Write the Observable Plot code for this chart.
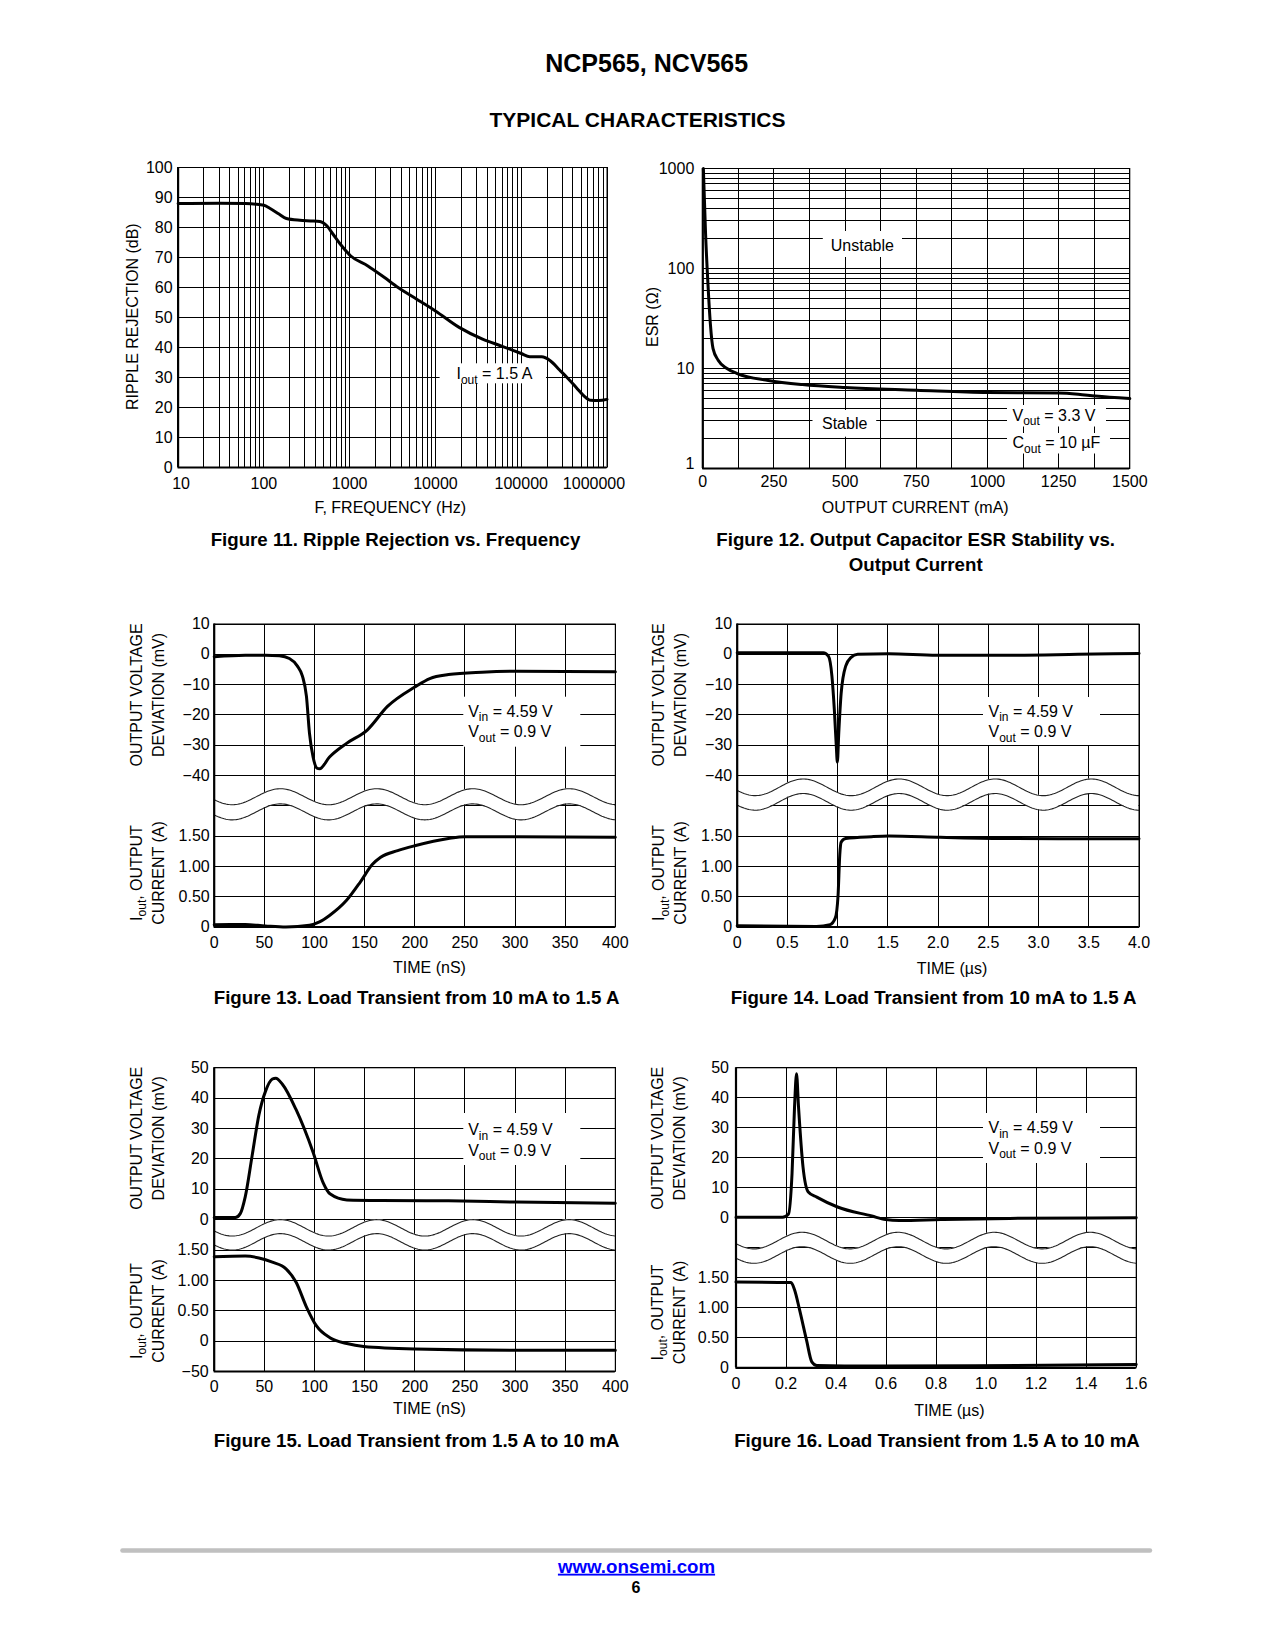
<!DOCTYPE html>
<html><head><meta charset="utf-8">
<script src="https://cdn.jsdelivr.net/npm/d3@7"></script>
<script src="https://cdn.jsdelivr.net/npm/@observablehq/plot@0.6"></script>
<style>
html,body{margin:0;padding:0;background:#fff;}
#page{position:relative;width:1275px;height:1650px;background:#fff;overflow:hidden;}
.chart{position:absolute;}
#overlay{position:absolute;left:0;top:0;pointer-events:none;}
</style></head><body><div id="page"></div>
<script>
// ---------------- DATA ----------------
// Figure 11: ripple rejection vs frequency
const fig11Freq = [10, 30, 61, 100, 117, 150, 183, 263, 350, 450, 545, 650, 780, 1030, 1630, 2500, 3670, 6000, 10000, 18900, 35400, 60000, 100000, 126000, 173000, 218000, 280000, 342000, 440000, 538000, 645000, 800000, 1000000];
const fig11Rej  = [88.0, 88.1, 88.0, 87.4, 86.4, 84.5, 83.0, 82.4, 82.2, 82.0, 80.5, 77.5, 74.4, 70.5, 67.2, 63.5, 60.0, 56.2, 52.2, 46.7, 42.8, 40.4, 38.0, 36.9, 36.9, 35.6, 32.5, 30.0, 26.6, 23.9, 22.4, 22.3, 22.7];
const fig11XTicks = [10, 100, 1000, 10000, 100000, 1000000];
const fig11YTicks = [0, 10, 20, 30, 40, 50, 60, 70, 80, 90, 100];

// Figure 12: ESR stability vs output current
const fig12Current = [2, 9.7, 18, 26.6, 36, 54, 85, 121, 230, 350, 500, 750, 1000, 1250, 1319, 1379, 1500];
const fig12Esr     = [1000, 224, 71, 28, 15.8, 12.1, 10, 8.9, 7.6, 6.9, 6.45, 6.07, 5.75, 5.7, 5.54, 5.3, 5.0];
const fig12XTicks = [0, 250, 500, 750, 1000, 1250, 1500];
const fig12YTicks = [1, 10, 100, 1000];

// Figure 13: load transient 10 mA -> 1.5 A (ns)
const fig13VoltT = [0, 31, 51, 65, 75, 83, 88, 92, 95, 98.6, 102.6, 105, 115, 132, 152.6, 172.8, 200, 215, 233.6, 267, 301, 400];
const fig13Volt  = [-0.8, -0.3, -0.3, -0.5, -1.4, -3.9, -7.2, -13.9, -26, -33.9, -37.6, -37.8, -33.9, -29.4, -25, -17.2, -10.8, -8, -6.7, -5.9, -5.6, -5.8];
const fig13CurT  = [0, 31, 51, 71.5, 95, 105, 115, 132, 146, 157.6, 166, 183, 200, 233.6, 250, 301, 400];
const fig13Cur   = [0.039, 0.04, 0.017, 0, 0.028, 0.083, 0.19, 0.44, 0.75, 1.03, 1.15, 1.26, 1.34, 1.46, 1.49, 1.49, 1.48];
const fig13XTicks = [0, 50, 100, 150, 200, 250, 300, 350, 400];

// Figure 14: load transient 10 mA -> 1.5 A (us)
const fig14VoltT = [0, 0.857, 0.908, 0.943, 0.967, 0.987, 0.997, 1.011, 1.035, 1.08, 1.131, 1.2, 1.508, 1.988, 2.708, 3.393, 4.0];
const fig14Volt  = [0.5, 0.5, -0.6, -7.2, -18.3, -30.6, -35.6, -26, -12.8, -3.9, -1.1, 0, 0.2, -0.3, -0.3, 0, 0.3];
const fig14CurT  = [0, 0.788, 0.925, 0.977, 1.004, 1.021, 1.035, 1.08, 1.337, 1.508, 2.022, 2.708, 4.0];
const fig14Cur   = [0.02, 0.01, 0.04, 0.15, 0.52, 1.19, 1.4, 1.46, 1.49, 1.5, 1.48, 1.46, 1.455];
const fig14XTicks = [0, 0.5, 1.0, 1.5, 2.0, 2.5, 3.0, 3.5, 4.0];

// Figure 15: load transient 1.5 A -> 10 mA (ns)
const fig15VoltT = [0, 21, 26, 31, 37.8, 44.6, 51.3, 58, 61.4, 68, 81.7, 98.6, 108.7, 115.4, 132.3, 166, 233.6, 301, 400];
const fig15Volt  = [0.7, 0.7, 2, 7.6, 21, 34.5, 42.4, 46.3, 46.6, 44.6, 36.2, 22.2, 12.1, 8.5, 6.5, 6.3, 6.2, 5.8, 5.4];
const fig15CurT  = [0, 31, 44.6, 58, 71.6, 81.7, 91.8, 102, 115.4, 132.3, 149, 200, 301, 400];
const fig15Cur   = [1.39, 1.40, 1.37, 1.30, 1.19, 0.97, 0.57, 0.25, 0.056, -0.004, -0.0089, -0.0129, -0.0149, -0.0149];
const fig15XTicks = [0, 50, 100, 150, 200, 250, 300, 350, 400];

// Figure 16: load transient 1.5 A -> 10 mA (us)
const fig16VoltT = [0, 0.186, 0.21, 0.224, 0.234, 0.242, 0.25, 0.268, 0.289, 0.323, 0.406, 0.543, 0.598, 0.653, 0.819, 1.094, 1.6];
const fig16Volt  = [0.2, 0.2, 1.3, 14.7, 36.9, 48, 36.9, 16.9, 8.6, 6.9, 3.6, 0.6, -0.6, -0.9, -0.6, -0.2, 0];
const fig16CurT  = [0, 0.22, 0.234, 0.254, 0.282, 0.303, 0.323, 0.543, 0.956, 1.6];
const fig16Cur   = [1.43, 1.42, 1.30, 0.97, 0.46, 0.1, 0.04, 0.03, 0.034, 0.056];
const fig16XTicks = [0, 0.2, 0.4, 0.6, 0.8, 1.0, 1.2, 1.4, 1.6];

// tick labels for transient y axes
const voltTicksNeg = [10, 0, -10, -20, -30, -40];
const voltTicksPos = [50, 40, 30, 20, 10, 0];
const currentTicks = [1.5, 1.0, 0.5, 0];
const fig15NegCurrentTick = [-0.05]; // -50 mA

// ---------------- HELPERS ----------------
const FONT = "'Liberation Sans', Arial, Helvetica, sans-serif";
const STYLE = {fontFamily: FONT, fontSize: "16px", color: "black", background: "transparent", overflow: "visible"};
const page = document.getElementById("page");
const GRID = {stroke: "black", strokeOpacity: 1, strokeWidth: 1};
const fmtInt = d3.format("d");
const fmtMinus = v => v < 0 ? "\u2212" + (-v) : String(v);
const fmtA = v => v === 0 ? "0" : v.toFixed(2);
const fmtDec = d => d === 0 ? "0" : d.toFixed(1);

function place(frame, build) {
  const {x0, x1, y0, y1} = frame;
  const left = Math.floor(x0) - 100, top = Math.floor(y0) - 20;
  const width = Math.ceil(x1) + 40 - left, height = Math.ceil(y1) + 40 - top;
  const L = {width, height, marginLeft: x0 - left, marginRight: width - (x1 - left), marginTop: y0 - top, marginBottom: height - (y1 - top)};
  const svg = build(L);
  svg.querySelectorAll('g[aria-label="x-grid"], g[aria-label="y-grid"]').forEach(g => g.setAttribute("shape-rendering", "crispEdges"));
  const div = document.createElement("div");
  div.className = "chart";
  div.style.left = left + "px"; div.style.top = top + "px"; div.style.width = width + "px"; div.style.height = height + "px";
  div.appendChild(svg);
  page.appendChild(div);
}

function frameMarks(xmin, ymin) {
  return [
    Plot.frame({stroke: "black", strokeWidth: 1}),
    Plot.ruleX([xmin], {stroke: "black", strokeWidth: 2.2}),
    Plot.ruleY([ymin], {stroke: "black", strokeWidth: 2.2})
  ];
}

function makeWave(x0, x1, crest, period, hiC, loC, amp) {
  return d3.range(0, 241).map(k => {
    const x = x0 + (x1 - x0) * k / 240;
    const c = Math.cos(2 * Math.PI * (x - crest) / period);
    return {x, hi: hiC + amp * c, lo: loC + amp * c};
  });
}

// ---------------- FIGURE 11 ----------------
const fig11Grid = [];
for (let dec = 10; dec < 1e6; dec *= 10) for (let m = 1; m < 10; m++) fig11Grid.push(dec * m);
fig11Grid.push(1e6);
place({x0: 177.6, x1: 606.5, y0: 167, y1: 467}, L => Plot.plot({
  ...L,
  x: {type: "log", domain: [10, 1e6], label: null},
  y: {domain: [0, 100], label: null},
  style: STYLE,
  marks: [
    Plot.gridX(fig11Grid, GRID),
    Plot.gridY(fig11YTicks, GRID),
    ...frameMarks(10, 0),
    Plot.line(fig11Freq.map((f, i) => ({f, r: fig11Rej[i]})), {x: "f", y: "r", stroke: "black", strokeWidth: 3, curve: "monotone-x", strokeLinejoin: "round"}),
    Plot.axisX(fig11XTicks.slice(1, 5), {tickSize: 0, tickPadding: 10, tickFormat: fmtInt, fontSize: 16, label: null}),
    Plot.axisX([10], {tickSize: 0, tickPadding: 10, tickFormat: fmtInt, fontSize: 16, label: null, dx: 3}),
    Plot.axisX([1000000], {tickSize: 0, tickPadding: 10, tickFormat: fmtInt, fontSize: 16, label: null, dx: -13}),
    Plot.axisY(fig11YTicks, {tickSize: 0, tickPadding: 5.5, fontSize: 16, label: null})
  ]
}));

// ---------------- FIGURE 12 ----------------
const fig12GridY = [];
for (let dec = 1; dec < 1000; dec *= 10) for (let m = 1; m < 10; m++) fig12GridY.push(dec * m);
fig12GridY.push(1000);
place({x0: 702.3, x1: 1129.3, y0: 168, y1: 468}, L => Plot.plot({
  ...L,
  x: {domain: [0, 1500], label: null},
  y: {type: "log", domain: [1, 1000], label: null},
  style: STYLE,
  marks: [
    Plot.gridX(d3.range(0, 1501, 125), GRID),
    Plot.gridY(fig12GridY, GRID),
    ...frameMarks(0, 1),
    Plot.line(fig12Current.map((c, i) => ({c, e: fig12Esr[i]})), {x: "c", y: "e", stroke: "black", strokeWidth: 3, curve: "monotone-x", strokeLinejoin: "round"}),
    Plot.axisX(fig12XTicks, {tickSize: 0, tickPadding: 7, tickFormat: fmtInt, fontSize: 16, label: null}),
    Plot.axisY(fig12YTicks.slice(1), {tickSize: 0, tickPadding: 8.5, tickFormat: fmtInt, fontSize: 16, label: null}),
    Plot.axisY([1], {tickSize: 0, tickPadding: 8.5, tickFormat: fmtInt, fontSize: 16, label: null, dy: -5})
  ]
}));

// ---------------- TRANSIENT FIGURES ----------------
function transient(frame, cfg) {
  const curLabel = new Map();
  cfg.curTicks.forEach(I => curLabel.set(cfg.eq(I), fmtA(I)));
  place(frame, L => Plot.plot({
    ...L,
    x: {domain: cfg.xDomain, label: null},
    y: {domain: cfg.yDomain, label: null},
    style: STYLE,
    marks: [
      Plot.gridX(cfg.xTicks, GRID),
      Plot.gridY(d3.range(cfg.yDomain[0], cfg.yDomain[1] + 1, 10), GRID),
      Plot.areaY(cfg.wave, {x: "x", y1: "lo", y2: "hi", fill: "white"}),
      Plot.line(cfg.wave, {x: "x", y: "hi", stroke: "#222", strokeWidth: 1.1}),
      Plot.line(cfg.wave, {x: "x", y: "lo", stroke: "#222", strokeWidth: 1.1}),
      ...frameMarks(cfg.xDomain[0], cfg.yDomain[0]),
      Plot.line(cfg.voltT.map((t, i) => ({t, y: cfg.volt[i]})), {x: "t", y: "y", stroke: "black", strokeWidth: 3, curve: "monotone-x", strokeLinejoin: "round"}),
      Plot.line(cfg.curT.map((t, i) => ({t, y: cfg.eq(cfg.cur[i])})), {x: "t", y: "y", stroke: "black", strokeWidth: 3, curve: "monotone-x", strokeLinejoin: "round"}),
      Plot.axisX(cfg.xTicks, {tickSize: 0, tickPadding: 9.5, tickFormat: cfg.xFmt, fontSize: 16, label: null}),
      Plot.axisY(cfg.voltTicks, {tickSize: 0, tickPadding: cfg.yPad, tickFormat: fmtMinus, fontSize: 16, label: null}),
      Plot.axisY(cfg.curTicks.map(cfg.eq), {tickSize: 0, tickPadding: cfg.yPad, tickFormat: d => curLabel.get(d), fontSize: 16, label: null}),
      ...(cfg.extraTicks || [])
    ]
  }));
}

const eq13 = I => -90 + 20 * I;
transient({x0: 213.7, x1: 614.8, y0: 623.5, y1: 926.5}, {
  xDomain: [0, 400], yDomain: [-90, 10], xTicks: fig13XTicks, xFmt: d => String(d), yPad: 4.5,
  voltT: fig13VoltT, volt: fig13Volt, curT: fig13CurT, cur: fig13Cur, eq: eq13,
  voltTicks: voltTicksNeg, curTicks: currentTicks,
  wave: makeWave(0, 400, 66, 96, -47.0, -52.0, 2.64)
});

transient({x0: 736.7, x1: 1138.5, y0: 623.5, y1: 926.5}, {
  xDomain: [0, 4], yDomain: [-90, 10], xTicks: fig14XTicks, xFmt: fmtDec, yPad: 5,
  voltT: fig14VoltT, volt: fig14Volt, curT: fig14CurT, cur: fig14Cur, eq: eq13,
  voltTicks: voltTicksNeg, curTicks: currentTicks,
  wave: makeWave(0, 4, 0.657, 0.956, -43.9, -48.7, 2.75)
});

const eq15 = I => I >= 0 ? -40 + 20 * I : -40 + 200 * I;
transient({x0: 213.7, x1: 614.8, y0: 1067.3, y1: 1371}, {
  xDomain: [0, 400], yDomain: [-50, 50], xTicks: fig15XTicks, xFmt: d => String(d), yPad: 5.5,
  voltT: fig15VoltT, volt: fig15Volt, curT: fig15CurT, cur: fig15Cur, eq: eq15,
  voltTicks: voltTicksPos, curTicks: currentTicks,
  wave: makeWave(0, 400, 66, 96, -2.7, -7.3, 2.7),
  extraTicks: [Plot.axisY(fig15NegCurrentTick.map(eq15), {tickSize: 0, tickPadding: 5.5, tickFormat: () => "\u221250", fontSize: 16, label: null})]
});

const eq16 = I => -50 + 20 * I;
transient({x0: 735.5, x1: 1135.7, y0: 1067.3, y1: 1367.3}, {
  xDomain: [0, 1.6], yDomain: [-50, 50], xTicks: fig16XTicks, xFmt: fmtDec, yPad: 7,
  voltT: fig16VoltT, volt: fig16Volt, curT: fig16CurT, cur: fig16Cur, eq: eq16,
  voltTicks: voltTicksPos, curTicks: currentTicks,
  wave: makeWave(0, 1.6, 0.264, 0.384, -7.6, -12.4, 2.77)
});

// ---------------- OVERLAY: page text, titles, annotations ----------------
const ov = d3.select("#page").append("svg").attr("id", "overlay").attr("width", 1275).attr("height", 1650);

function box(x, y, w, h) { ov.append("rect").attr("x", x).attr("y", y).attr("width", w).attr("height", h).attr("fill", "white"); }
function txt(x, y, parts, o = {}) {
  const size = o.size || 16;
  const t = ov.append("text").attr("font-family", FONT).attr("font-size", size)
    .attr("font-weight", o.bold ? "bold" : null).attr("fill", o.fill || "#000")
    .attr("text-anchor", o.anchor || "middle");
  if (o.underline) t.attr("text-decoration", "underline");
  if (o.rotate) t.attr("transform", `translate(${x + 0.358 * size},${y}) rotate(-90)`);
  else t.attr("x", x).attr("y", y + 0.358 * size);
  if (typeof parts === "string") parts = [[parts]];
  let prevSub = false;
  const shift = size * 0.28;
  for (const [s, sub] of parts) {
    const ts = t.append("tspan").text(s);
    if (sub) { ts.attr("font-size", size * 0.75).attr("dy", shift); prevSub = true; }
    else { if (prevSub) ts.attr("dy", -shift); prevSub = false; }
  }
}

// header
txt(646.7, 63.3, "NCP565, NCV565", {size: 25, bold: true});
txt(637.5, 119.2, "TYPICAL CHARACTERISTICS", {size: 21, bold: true});

// captions
const CAP = {size: 18.7, bold: true};
txt(395.5, 539.7, "Figure 11. Ripple Rejection vs. Frequency", CAP);
txt(915.7, 539.7, "Figure 12. Output Capacitor ESR Stability vs.", CAP);
txt(915.7, 563.9, "Output Current", CAP);
txt(416.6, 997.3, "Figure 13. Load Transient from 10 mA to 1.5 A", CAP);
txt(933.7, 997.3, "Figure 14. Load Transient from 10 mA to 1.5 A", CAP);
txt(416.6, 1440.2, "Figure 15. Load Transient from 1.5 A to 10 mA", CAP);
txt(937, 1440.2, "Figure 16. Load Transient from 1.5 A to 10 mA", CAP);

// axis titles
txt(390.3, 507, "F, FREQUENCY (Hz)");
txt(132.5, 316.7, "RIPPLE REJECTION (dB)", {rotate: true});
txt(915.2, 507, "OUTPUT CURRENT (mA)");
txt(652, 317, "ESR (\u03A9)", {rotate: true});
function transTitles(xa, xb, yv, yc, tx, ty, unit) {
  txt(tx, ty, unit);
  txt(xa, yv, "OUTPUT VOLTAGE", {rotate: true});
  txt(xb, yv, "DEVIATION (mV)", {rotate: true});
  txt(xa, yc, [["I"], ["out", 1], [", OUTPUT"]], {rotate: true});
  txt(xb, yc, "CURRENT (A)", {rotate: true});
}
transTitles(136, 158, 695, 873, 429.5, 967, "TIME (nS)");
transTitles(658.5, 680, 695, 873, 952, 968, "TIME (\u00B5s)");
transTitles(136, 158, 1138.3, 1311, 429.5, 1408.5, "TIME (nS)");
transTitles(657, 679, 1138.3, 1312.5, 949.4, 1410, "TIME (\u00B5s)");

// annotations with white backing boxes
box(439.6, 363.3, 106.4, 20);
txt(494.4, 373.3, [["I"], ["out", 1], [" = 1.5 A"]]);
box(822.8, 231, 79.2, 26);
txt(862.4, 245, "Unstable");
box(812.5, 410, 63.7, 26.7);
txt(844.7, 423.3, "Stable");
box(1007, 405, 99, 21.5);
txt(1012.5, 414.8, [["V"], ["out", 1], [" = 3.3 V"]], {anchor: "start"});
box(1007, 433, 103, 20.5);
txt(1012.5, 442.5, [["C"], ["out", 1], [" = 10 \u00B5F"]], {anchor: "start"});
function vbox(bx, by, bh, tx, ty1, ty2) {
  box(bx, by, 117, bh);
  txt(tx, ty1, [["V"], ["in", 1], [" = 4.59 V"]], {anchor: "start"});
  txt(tx, ty2, [["V"], ["out", 1], [" = 0.9 V"]], {anchor: "start"});
}
vbox(463.3, 696.7, 50, 468.2, 711, 731.5);
vbox(983, 697, 48, 988.5, 711, 731.5);
vbox(463.3, 1113, 52, 468.2, 1129.5, 1150);
vbox(983, 1113, 50, 988.5, 1127.5, 1148);

// footer
ov.append("line").attr("x1", 122.4).attr("x2", 1150).attr("y1", 1550.5).attr("y2", 1550.5)
  .attr("stroke", "#c0c0c0").attr("stroke-width", 4.4).attr("stroke-linecap", "round");
txt(636.5, 1566, "www.onsemi.com", {size: 18.7, bold: true, fill: "#0000ff", underline: true});
txt(636, 1587.5, "6", {size: 16, bold: true});
</script></body></html>
